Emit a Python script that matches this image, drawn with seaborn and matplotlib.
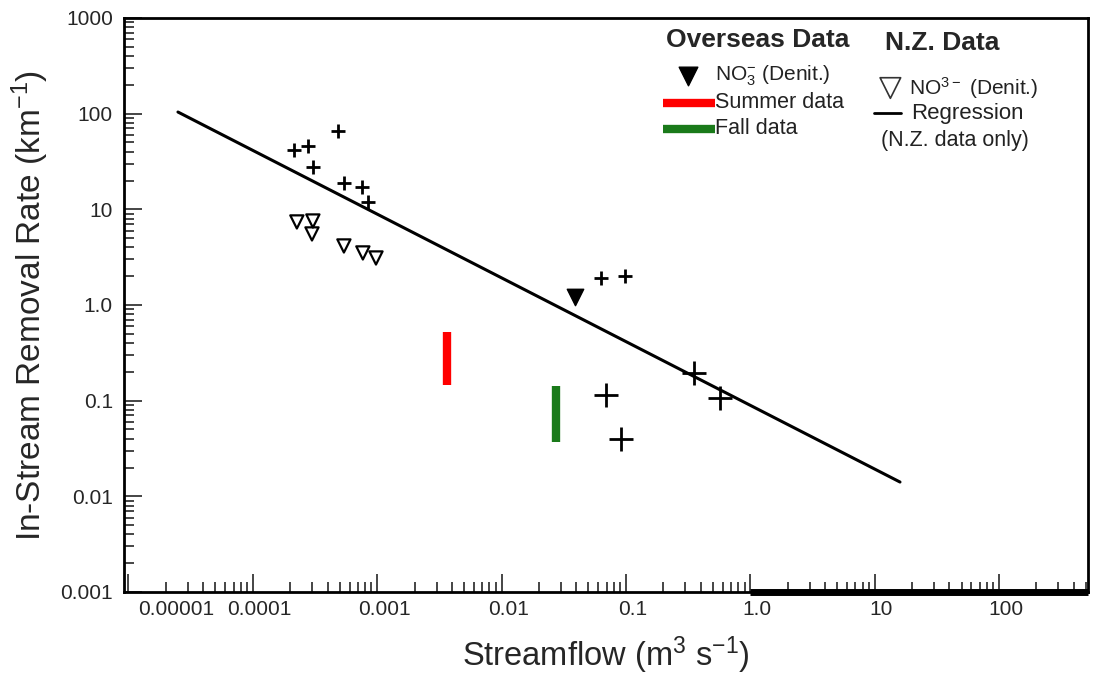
import matplotlib
matplotlib.use("Agg")
import matplotlib.pyplot as plt
import matplotlib.ticker as mticker
import matplotlib.transforms as mtransforms
import seaborn as sns
import pandas as pd

# --- data ---
# N.Z. data: removal rate (+)
nz_cross_x = [2.14e-4, 2.77e-4, 3.04e-4, 4.83e-4, 5.40e-4, 7.53e-4, 8.41e-4, 0.063, 0.098]
nz_cross_y = [41.7, 45.9, 27.7, 65.9, 18.8, 17.1, 11.9, 1.91, 2.01]
# larger crosses at the high-flow end
big_cross_x = [0.353, 0.069, 0.0914, 0.571]
big_cross_y = [0.195, 0.115, 0.0397, 0.107]
# N.Z. NO3- (Denit.)
nz_tri_x = [2.26e-4, 3.04e-4, 2.99e-4, 5.40e-4, 7.67e-4, 9.78e-4]
nz_tri_y = [7.38, 7.55, 5.53, 4.14, 3.50, 3.10]
# Overseas NO3- (Denit.)
os_tri_x = [0.0389]
os_tri_y = [1.21]
# Overseas summer / fall ranges
summer_x = 0.00364
summer_range = [0.146, 0.522]
fall_x = 0.0274
fall_range = [0.037, 0.142]
# regression (N.Z. data only), end points
reg_x = [2.5e-5, 16.0]
reg_y = [104, 0.0141]

x_ticks = [1e-5, 1e-4, 1e-3, 1e-2, 1e-1, 1, 10, 100]
x_labels = ["0.00001", "0.0001", "0.001", "0.01", "0.1", "1.0", "10", "100"]
y_ticks = [1e-3, 1e-2, 1e-1, 1, 10, 100, 1000]
y_labels = ["0.001", "0.01", "0.1", "1.0", "10", "100", "1000"]
x_lim = (9.2e-6, 520)
y_lim = (1e-3, 1000)

sns.set_style("white")
plt.rcParams["font.family"] = ["Liberation Sans", "DejaVu Sans"]
plt.rcParams["mathtext.default"] = "regular"

fig = plt.figure(figsize=(10.99, 6.74), dpi=100)
ax = fig.add_axes([0.1128, 0.1217, 0.8772, 0.8516])

# regression
reg = pd.DataFrame({"x": reg_x, "y": reg_y})
sns.lineplot(data=reg, x="x", y="y", color="black", linewidth=2.2, ax=ax)

# summer / fall bars
ax.plot([summer_x, summer_x], summer_range, color="#ff0000", linewidth=6,
        solid_capstyle="butt")
ax.plot([fall_x, fall_x], fall_range, color="#1a7a1a", linewidth=6,
        solid_capstyle="butt")

# markers
sns.scatterplot(x=nz_cross_x, y=nz_cross_y, marker="+", s=110, color="black",
                linewidth=2, ax=ax)
sns.scatterplot(x=big_cross_x, y=big_cross_y, marker="+", s=280, color="black",
                linewidth=2, ax=ax)
sns.scatterplot(x=nz_tri_x, y=nz_tri_y, marker="v", s=90, facecolor="none",
                edgecolor="black", linewidth=1.6, ax=ax)
sns.scatterplot(x=os_tri_x, y=os_tri_y, marker="v", s=140, color="black",
                edgecolor="black", linewidth=1, ax=ax)

ax.set_xscale("log")
ax.set_yscale("log")
ax.set_xlim(*x_lim)
ax.set_ylim(*y_lim)

# thick bar along the bottom from 1.0 to the end
ax.plot([1.0, x_lim[1]], [y_lim[0], y_lim[0]], color="black", linewidth=5,
        solid_capstyle="butt", clip_on=False, zorder=5)

ax.xaxis.set_major_locator(mticker.FixedLocator(x_ticks))
ax.xaxis.set_major_formatter(mticker.FixedFormatter(x_labels))
ax.yaxis.set_major_locator(mticker.FixedLocator(y_ticks))
ax.yaxis.set_major_formatter(mticker.FixedFormatter(y_labels))
ax.xaxis.set_minor_locator(mticker.LogLocator(base=10, subs=range(2, 10), numticks=20))
ax.yaxis.set_minor_locator(mticker.LogLocator(base=10, subs=range(2, 10), numticks=20))
ax.xaxis.set_minor_formatter(mticker.NullFormatter())
ax.yaxis.set_minor_formatter(mticker.NullFormatter())

ax.tick_params(which="major", direction="in", length=13, width=1.2,
               labelsize=15, pad=6, top=False, right=False, bottom=True, left=True)
ax.tick_params(which="minor", direction="in", length=7, width=1.2,
               top=False, right=False, bottom=True, left=True)
ax.tick_params(axis="y", which="major", pad=8)

# x labels sit a little right of their ticks in the original
shift = mtransforms.ScaledTranslation(5 / 72, 0, fig.dpi_scale_trans)
for i, lab in enumerate(ax.get_xticklabels()):
    if i == 0:
        lab.set_horizontalalignment("left")
        lab.set_transform(lab.get_transform() + mtransforms.ScaledTranslation(7 / 72, 0, fig.dpi_scale_trans))
    else:
        lab.set_transform(lab.get_transform() + shift)

for side in ["left", "bottom", "top", "right"]:
    ax.spines[side].set_visible(True)
    ax.spines[side].set_color("black")
    ax.spines[side].set_linewidth(2)

ax.set_xlabel("Streamflow (m$^3$ s$^{-1}$)", fontsize=23.5, labelpad=11)
ax.set_ylabel("In-Stream Removal Rate (km$^{-1}$)", fontsize=24, labelpad=7)

# hand-drawn legend block
tr = ax.transAxes
txt = "#222222"
ax.text(0.657, 0.962, "Overseas Data", transform=tr, ha="center", va="center",
        fontsize=19, fontweight="bold")
ax.text(0.849, 0.956, "N.Z. Data", transform=tr, ha="center", va="center",
        fontsize=19, fontweight="bold")
ax.scatter([0.585], [0.899], transform=tr, marker="v", s=180, color="black",
           clip_on=False)
ax.text(0.613, 0.899, "NO$_3^{-}$ (Denit.)", transform=tr, ha="left", va="center",
        fontsize=15, color=txt)
ax.plot([0.559, 0.613], [0.852, 0.852], transform=tr, color="#ff0000",
        linewidth=6, solid_capstyle="butt")
ax.text(0.613, 0.852, "Summer data", transform=tr, ha="left", va="center",
        fontsize=15.5, color=txt)
ax.plot([0.559, 0.613], [0.807, 0.807], transform=tr, color="#1a7a1a",
        linewidth=6, solid_capstyle="butt")
ax.text(0.613, 0.807, "Fall data", transform=tr, ha="left", va="center",
        fontsize=15.5, color=txt)
ax.scatter([0.795], [0.878], transform=tr, marker="v", s=220, facecolor="none",
           edgecolor="#333333", linewidth=1.2, clip_on=False)
ax.text(0.814, 0.878, "NO$^{3-}$ (Denit.)", transform=tr, ha="left", va="center",
        fontsize=15, color=txt)
ax.plot([0.778, 0.806], [0.834, 0.834], transform=tr, color="black", linewidth=2)
ax.text(0.816, 0.834, "Regression", transform=tr, ha="left", va="center",
        fontsize=16, color=txt)
ax.text(0.862, 0.787, "(N.Z. data only)", transform=tr, ha="center", va="center",
        fontsize=15.5, color=txt)

fig.savefig("out.png", dpi=100)
